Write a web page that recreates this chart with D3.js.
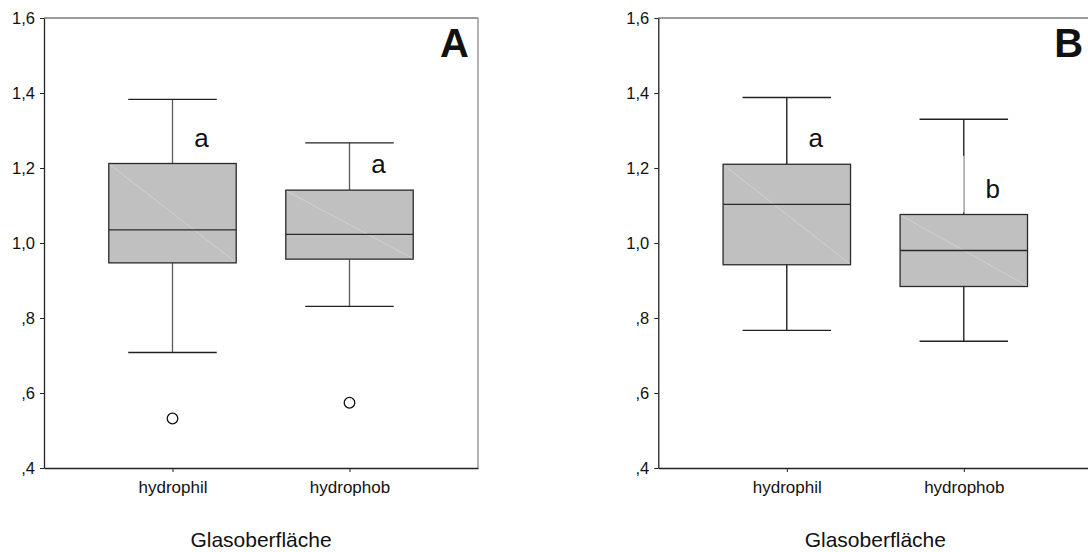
<!DOCTYPE html>
<html>
<head>
<meta charset="utf-8">
<script src="https://cdn.jsdelivr.net/npm/d3@7"></script>
<style>
  html, body { margin: 0; padding: 0; background: #fff; }
  svg { display: block; }
  text { font-family: "Liberation Sans", Arial, sans-serif; fill: #111; }
</style>
</head>
<body>
<svg id="chart" width="1088" height="552"></svg>
<script>
// Glass surface groups
const categories = ["hydrophil", "hydrophob"];
const yTicks = [0.4, 0.6, 0.8, 1.0, 1.2, 1.4, 1.6];
const yTickLabels = [",4", ",6", ",8", "1,0", "1,2", "1,4", "1,6"];
const axisTitle = "Glasoberfläche";

// Panel A box statistics
const whiskerHighA = [1.383, 1.267];
const q3A = [1.212, 1.141];
const medianA = [1.035, 1.023];
const q1A = [0.947, 0.957];
const whiskerLowA = [0.708, 0.831];
const outliersA = [0.532, 0.574];
const lettersA = ["a", "a"];

// Panel B box statistics
const whiskerHighB = [1.388, 1.330];
const q3B = [1.210, 1.076];
const medianB = [1.103, 0.980];
const q1B = [0.942, 0.884];
const whiskerLowB = [0.767, 0.738];
const outliersB = [null, null];
const lettersB = ["a", "b"];
// lower part of the upper whisker drawn in a pale tone (from this value down to Q3)
const whiskerPaleFromB = [null, 1.233];

const panels = [
  { tag: "A", dx: 0, hi: whiskerHighA, q3: q3A, med: medianA, q1: q1A, lo: whiskerLowA, out: outliersA, letters: lettersA, pale: [null, null], whiskerColor: "#5a5a5a" },
  { tag: "B", dx: 614.3, hi: whiskerHighB, q3: q3B, med: medianB, q1: q1B, lo: whiskerLowB, out: outliersB, letters: lettersB, pale: whiskerPaleFromB, whiskerColor: "#111" }
];

const svg = d3.select("#chart");
const plotLeft = 44, plotRight = 478, plotTop = 18, plotBottom = 468;

const y = d3.scaleLinear().domain([0.4, 1.6]).range([plotBottom, plotTop]);
const x = d3.scalePoint().domain(categories).range([plotLeft, plotRight]).padding(0.726);
const step = x.step();
const boxW = step * 0.72;
const capW = step * 0.5;

panels.forEach(p => {
  const g = svg.append("g").attr("transform", `translate(${p.dx},0)`);

  // frame: top and right edges in grey
  g.append("line").attr("x1", plotLeft).attr("x2", plotRight).attr("y1", plotTop).attr("y2", plotTop)
    .attr("stroke", "#7a7a7a").attr("stroke-width", 1.3);
  g.append("line").attr("x1", plotRight).attr("x2", plotRight).attr("y1", plotTop).attr("y2", plotBottom)
    .attr("stroke", "#8a8a8a").attr("stroke-width", 1.3);

  // y axis
  const yAxis = d3.axisLeft(y).tickValues(yTicks).tickSize(4).tickSizeOuter(0).tickPadding(5)
    .tickFormat((d, i) => yTickLabels[i]);
  const ya = g.append("g").attr("transform", `translate(${plotLeft},0)`).call(yAxis);
  ya.select(".domain").attr("stroke", "#222").attr("stroke-width", 1.3);
  ya.selectAll(".tick line").attr("stroke", "#222");
  ya.selectAll(".tick text").attr("font-size", 16.5).attr("fill", "#111")
    .attr("font-family", "'Liberation Sans', Arial, sans-serif");

  // x axis
  const xAxis = d3.axisBottom(x).tickSize(4).tickSizeOuter(0).tickPadding(9);
  const xa = g.append("g").attr("transform", `translate(0,${plotBottom})`).call(xAxis);
  xa.select(".domain").attr("stroke", "#222").attr("stroke-width", 1.3);
  xa.selectAll(".tick line").attr("stroke", "#222");
  xa.selectAll(".tick text").attr("font-size", 17).attr("fill", "#111")
    .attr("font-family", "'Liberation Sans', Arial, sans-serif");

  // axis title
  g.append("text").attr("x", (plotLeft + plotRight) / 2).attr("y", 547)
    .attr("text-anchor", "middle").attr("font-size", 21).text(axisTitle);

  // panel tag
  g.append("text").attr("x", 440).attr("y", 57).attr("font-size", 40)
    .attr("font-weight", "bold").attr("fill", "#000").text(p.tag);

  categories.forEach((c, i) => {
    const cx = x(c);
    // whiskers
    g.append("line").attr("x1", cx).attr("x2", cx).attr("y1", y(p.hi[i])).attr("y2", y(p.q3[i]))
      .attr("stroke", p.whiskerColor).attr("stroke-width", 1.3);
    if (p.pale[i] != null) {
      g.append("line").attr("x1", cx).attr("x2", cx).attr("y1", y(p.pale[i])).attr("y2", y(p.q3[i]) - 2)
        .attr("stroke", "#c8c8c8").attr("stroke-width", 1.5);
    }
    g.append("line").attr("x1", cx).attr("x2", cx).attr("y1", y(p.q1[i])).attr("y2", y(p.lo[i]))
      .attr("stroke", p.whiskerColor).attr("stroke-width", 1.3);
    g.append("line").attr("x1", cx - capW / 2).attr("x2", cx + capW / 2)
      .attr("y1", y(p.hi[i])).attr("y2", y(p.hi[i])).attr("stroke", "#222").attr("stroke-width", 1.3);
    g.append("line").attr("x1", cx - capW / 2).attr("x2", cx + capW / 2)
      .attr("y1", y(p.lo[i])).attr("y2", y(p.lo[i])).attr("stroke", "#222").attr("stroke-width", 1.3);

    // box
    g.append("rect").attr("x", cx - boxW / 2).attr("y", y(p.q3[i]))
      .attr("width", boxW).attr("height", y(p.q1[i]) - y(p.q3[i]))
      .attr("fill", "#c0c0c0").attr("stroke", "#2a2a2a").attr("stroke-width", 1.3);
    // faint diagonal seam across the box fill
    g.append("line").attr("x1", cx - boxW / 2 + 1).attr("y1", y(p.q3[i]) + 1)
      .attr("x2", cx + boxW / 2 - 1).attr("y2", y(p.q1[i]) - 1)
      .attr("stroke", "#dedede").attr("stroke-width", 0.6);
    // median
    g.append("line").attr("x1", cx - boxW / 2).attr("x2", cx + boxW / 2)
      .attr("y1", y(p.med[i])).attr("y2", y(p.med[i])).attr("stroke", "#2a2a2a").attr("stroke-width", 1.3);

    // outlier
    if (p.out[i] != null) {
      g.append("circle").attr("cx", cx).attr("cy", y(p.out[i])).attr("r", 5.3)
        .attr("fill", "#fff").attr("stroke", "#111").attr("stroke-width", 1.3);
    }

    // significance letter
    g.append("text").attr("x", cx + 29).attr("y", y(p.q3[i]) - 17)
      .attr("text-anchor", "middle").attr("font-size", 26)
      .attr("font-family", "'Open Sans', sans-serif").attr("fill", "#000")
      .text(p.letters[i]);
  });
});
</script>
</body>
</html>
